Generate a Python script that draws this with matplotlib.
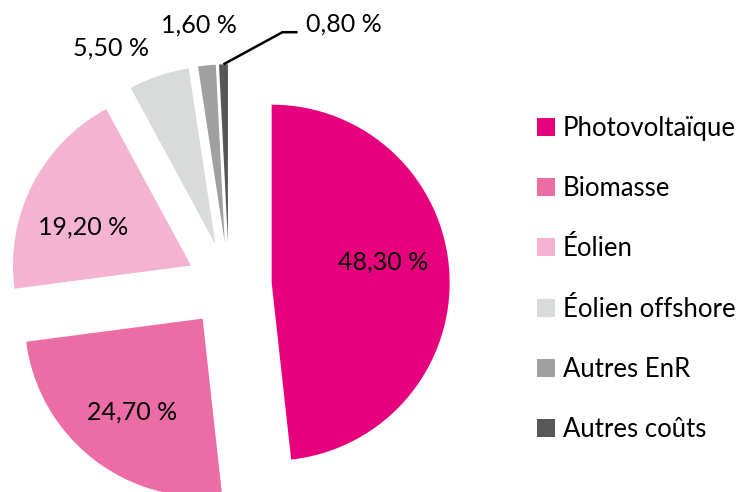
import numpy as np
import matplotlib
matplotlib.use('Agg')
from matplotlib import pyplot as plt
from matplotlib.patches import Patch

plt.rcParams['font.family'] = ['Lato', 'DejaVu Sans']

categories = ['Photovoltaïque', 'Biomasse', 'Éolien', 'Éolien offshore', 'Autres EnR', 'Autres coûts']
values = [48.3, 24.7, 19.2, 5.5, 1.6, 0.8]
labels = ['48,30 %', '24,70 %', '19,20 %', '5,50 %', '1,60 %', '0,80 %']
colors = ['#E6007E', '#EC6DA5', '#F4B3D1', '#D9DADA', '#A0A0A0', '#575757']

# label placement (radius from pie centre, angle nudge in degrees)
label_r = [0.875, 0.90, 0.88, 1.49, 1.47, 1.527]
label_da = [5.5, 0.8, 5.3, 8.0, 0.9, -17.8]

W, H = 745, 492
cx, cy, R = 229, 285, 178   # pie centre and radius in pixels

fig = plt.figure(figsize=(W / 100, H / 100), dpi=100)
ax = fig.add_axes([0, 0, 1, 1])
wedges, _ = ax.pie(values, colors=colors, startangle=90, counterclock=False,
                   explode=[0.24] * len(values), radius=1.0)
ax.set_aspect('auto')
ax.set_xlim(-cx / R, (W - cx) / R)
ax.set_ylim(-(H - cy) / R, cy / R)
ax.axis('off')

for i, w in enumerate(wedges):
    mid = np.deg2rad((w.theta1 + w.theta2) / 2 + label_da[i])
    x = label_r[i] * np.cos(mid)
    y = label_r[i] * np.sin(mid)
    ha = 'left' if i == len(wedges) - 1 else 'center'
    ax.text(x, y, labels[i], ha=ha, va='center', fontsize=18, color='black')

# leader line for the smallest slice
w = wedges[-1]
mid = np.deg2rad((w.theta1 + w.theta2) / 2)
tip = (1.24 * np.cos(mid), 1.24 * np.sin(mid))
lx = label_r[-1] * np.cos(mid + np.deg2rad(label_da[-1]))
ly = label_r[-1] * np.sin(mid + np.deg2rad(label_da[-1]))
ax.plot([tip[0], lx - 0.13, lx - 0.045], [tip[1], ly - 0.045, ly - 0.045],
        color='black', lw=1.8, solid_capstyle='butt')

handles = [Patch(facecolor=c, edgecolor='none') for c in colors]
fig.legend(handles, categories, loc='upper left', bbox_to_anchor=(537 / W, 1 - 116 / H),
           frameon=False, fontsize=18.5, labelspacing=1.37, handlelength=0.7,
           handleheight=0.7, handletextpad=0.3, borderpad=0, borderaxespad=0)

plt.savefig('out.png', dpi=100)
plt.close()
